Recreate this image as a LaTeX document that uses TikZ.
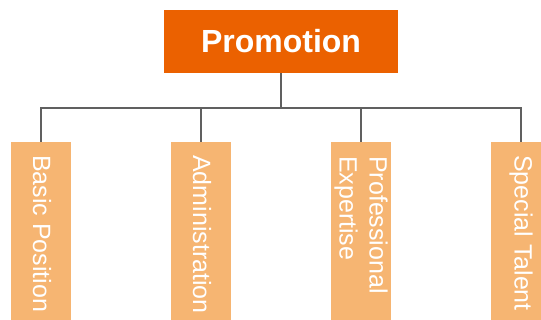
\documentclass[tikz,border=0pt]{standalone}
\usepackage{fontspec}
\setmainfont{Liberation Sans}
\definecolor{topc}{HTML}{EB6100}
\definecolor{boxc}{HTML}{F6B572}
\definecolor{linec}{HTML}{606060}
\begin{document}
\begin{tikzpicture}[x=1pt,y=-1pt,
  topbox/.style={fill=topc,minimum width=234pt,minimum height=63pt,inner sep=0pt,
    text=white,font=\fontsize{32}{38}\selectfont\bfseries},
  catbox/.style={fill=boxc,minimum width=60pt,minimum height=182pt,inner sep=0pt,anchor=north},
  cattext/.style={rotate=-90,anchor=west,inner sep=0pt,align=left,text=white,
    font=\fontsize{25}{30}\selectfont},
  conn/.style={draw=linec,line width=2pt}]
\clip (0,0) rectangle (541,320);
\fill[white] (0,0) rectangle (541,320);
\node[topbox] (top) at (281,41.5) {Promotion};
\node[catbox] (b1) at (41,142) {};
\node[catbox] (b2) at (201,142) {};
\node[catbox] (b3) at (361,142) {};
\node[catbox] (b4) at (521,142) {};
\node[cattext] (t1) at ([xshift=1pt,yshift=-13pt]b1.north) {Basic Position};
\node[cattext] (t2) at ([xshift=1pt,yshift=-13pt]b2.north) {Administration};
\node[cattext] (t3) at ([xshift=0pt,yshift=-14pt]b3.north) {Professional\\Expertise};
\node[cattext] (t4) at ([xshift=0pt,yshift=-13pt]b4.north) {Special Talent};
\coordinate (j) at (281,108);
\draw[conn] (top.south) -- (j);
\draw[conn,line cap=rect] (b1.north |- j) -- (b4.north |- j);
\draw[conn] (b1.north |- j) -- (b1.north);
\draw[conn] (b2.north |- j) -- (b2.north);
\draw[conn] (b3.north |- j) -- (b3.north);
\draw[conn] (b4.north |- j) -- (b4.north);
\end{tikzpicture}
\end{document}
